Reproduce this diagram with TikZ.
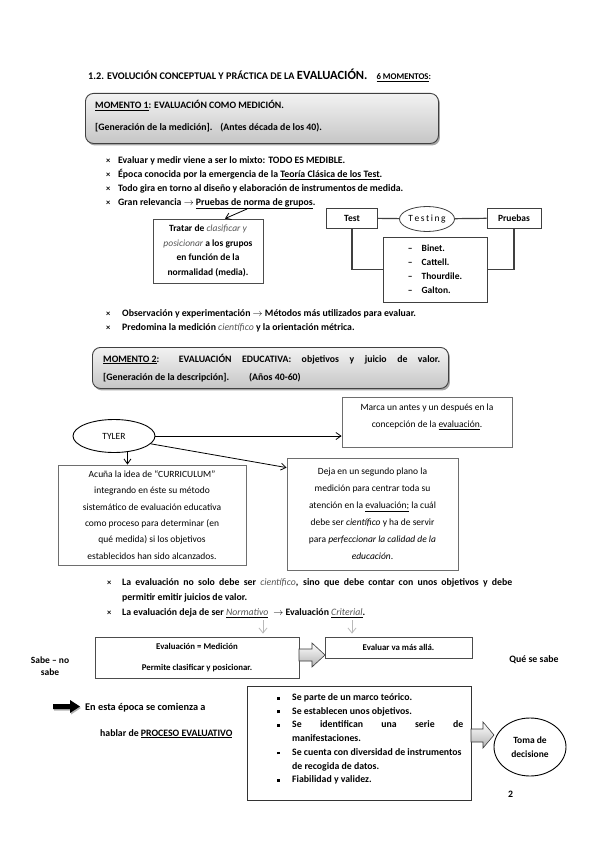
\documentclass[tikz,border=0pt]{standalone}
\usepackage{fontspec}
\setmainfont{Carlito}
\usetikzlibrary{arrows.meta,shapes.geometric,shadows,calc}
\definecolor{bordergray}{HTML}{6E6E6E}
\definecolor{linegray}{HTML}{404040}
\definecolor{itgray}{HTML}{555555}
\newcommand{\sqb}{\rule[1pt]{2.8pt}{2.8pt}}
\newcommand{\xmk}{{\fontsize{8.5}{8.5}\selectfont\bfseries ×}}
\newcommand{\itg}[1]{{\mdseries\itshape\color{itgray}#1}}
\begin{document}
\begin{tikzpicture}[x=1pt,y=-1pt,
  t/.style={inner sep=0pt, anchor=base west, font=\fontsize{9.8}{11}\selectfont\bfseries},
  box/.style={draw=bordergray, line width=0.8pt, inner sep=0pt, fill=white},
  momento/.style={draw=black!75, line width=0.9pt, rounded corners=8pt, top color=gray!10, bottom color=gray!45,
     drop shadow={shadow xshift=1.5pt, shadow yshift=-2pt, opacity=0.35, fill=black}},
  conn/.style={draw=linegray, line width=1.2pt},
  arr/.style={-{Straight Barb[length=5pt,width=7pt]}, line width=0.8pt, draw=black},
  garr/.style={-{Straight Barb[length=5pt,width=8pt]}, draw=gray!55, line width=0.8pt, shorten >=3pt},
  blockarrow/.style={draw=gray!45!black, line width=0.6pt, top color=white, bottom color=gray!60}
]
\fill[white] (0,0) rectangle (599,848);
\useasboundingbox (0,0) rectangle (599,848);

% title
\node[t, font=\fontsize{10.2}{11}\selectfont\bfseries] (title) at (88,80)
  {1.2. EVOLUCIÓN CONCEPTUAL Y PRÁCTICA DE LA {\fontsize{12.5}{12}\selectfont EVALUACIÓN.}\hspace{9pt}{\fontsize{8.8}{10}\selectfont\underline{6 MOMENTOS}:}};

% Momento 1
\node[momento, minimum width=353pt, minimum height=50pt, anchor=north west] (m1) at (85,93) {};
\node[t] (m1a) at (95,108.5) {\underline{MOMENTO 1}: EVALUACIÓN COMO MEDICIÓN.};
\node[t] (m1b) at (95,130.5) {[Generación de la medición].\hspace{5pt} (Antes década de los 40).};

% bullets 1
\node[t] (x1) at (106,163) {\xmk};
\node[t] (b1) at (118,163.5) {Evaluar y medir viene a ser lo mixto: TODO ES MEDIBLE.};
\node[t] (x2) at (106,177) {\xmk};
\node[t] (b2) at (118,177.5) {Época conocida por la emergencia de la \underline{Teoría Clásica de los Test}.};
\node[t] (x3) at (106,191) {\xmk};
\node[t] (b3) at (118,191.5) {\makebox[285pt][s]{Todo gira en torno al diseño y elaboración de instrumentos de medida.}};
\node[t] (x4) at (106,205) {\xmk};
\node[t] (b4) at (118,205.5) {Gran relevancia $\rightarrow$ \underline{Pruebas de norma de grupos}.};
\coordinate (pn) at (247,209);

% Tratar box
\node[box, draw=gray!60!black, minimum width=110pt, minimum height=64pt, align=center,
      font=\fontsize{9.5}{14.5}\selectfont\bfseries] (tratar) at (208,251)
  {Tratar de \itg{clasificar y}\\\itg{posicionar} a los grupos\\en función de la\\normalidad (media).};
\draw[arr] (pn) -- ($(tratar.north)+(17,0)$);

% Test group
\node[box, draw=linegray, minimum width=51pt, minimum height=20pt, font=\fontsize{9.5}{10}\selectfont\bfseries] (test) at (352,218) {Test};
\node[ellipse, draw=linegray, line width=0.8pt, minimum width=55pt, minimum height=25pt, inner sep=0pt,
      font=\fontsize{9.5}{10}\selectfont] (testing) at (427,219) {T\,e\,s\,t\,i\,n\,g};
\node[box, draw=linegray, minimum width=54pt, minimum height=20pt, font=\fontsize{9.5}{10}\selectfont\bfseries] (pruebas) at (514,218) {Pruebas};
\node[box, draw=linegray, minimum width=104pt, minimum height=65pt, align=left,
      font=\fontsize{9.5}{14}\selectfont\bfseries] (autores) at (435,269.5)
  {–\hspace{9pt}Binet.\\–\hspace{9pt}Cattell.\\–\hspace{9pt}Thourdile.\\–\hspace{9pt}Galton.};
\draw[conn] (test) -- (testing);
\draw[conn] (testing) -- (pruebas);
\draw[conn] (test.south) |- (autores.west);
\draw[conn] (pruebas.south) |- (autores.east);

% bullets 2
\node[t] (x5) at (106,316) {\xmk};
\node[t] (b5) at (122,316.5) {Observación y experimentación $\rightarrow$ Métodos más utilizados para evaluar.};
\node[t] (x6) at (106,330) {\xmk};
\node[t] (b6) at (122,330.5) {Predomina la medición \itg{científico} y la orientación métrica.};

% Momento 2
\node[momento, minimum width=356pt, minimum height=41pt, anchor=north west] (m2) at (92,347) {};
\node[t] (m2a) at (103,362) {\makebox[337pt][s]{\underline{MOMENTO\ 2}: EVALUACIÓN EDUCATIVA: objetivos y juicio de valor.}};
\node[t] (m2b) at (103,380.5) {[Generación de la descripción].\hspace{20pt}(Años 40-60)};

% Tyler
\node[ellipse, draw=black, line width=0.9pt, minimum width=82pt, minimum height=33pt, inner sep=0pt,
      font=\fontsize{9.5}{10}\selectfont] (tyler) at (114,436) {TYLER};
\node[box, minimum width=170pt, minimum height=50pt] (marca) at (427,422) {};
\node[align=center, inner sep=0pt, font=\fontsize{9.5}{17}\selectfont] (marcatxt) at (427,417)
  {Marca un antes y un después en la\\concepción de la \underline{evaluación}.};
\draw[arr] (tyler.east) -- (tyler.east -| marca.west);

\node[box, minimum width=188pt, minimum height=100pt, align=center, font=\fontsize{9.5}{16.3}\selectfont] (acuna) at (152,515)
  {Acuña la idea de “CURRICULUM”\\integrando en éste su método\\sistemático de evaluación educativa\\como proceso para determinar (en\\qué medida) si los objetivos\\establecidos han sido alcanzados.};
\draw[arr] (tyler.-50) -- (tyler.-50 |- acuna.north);

\node[box, minimum width=171pt, minimum height=112pt, align=center, font=\fontsize{9.5}{17}\selectfont] (deja) at (372.5,514)
  {Deja en un segundo plano la\\medición para centrar toda su\\atención en la \underline{evaluación;} la cuál\\debe ser \textit{científico} y ha de servir\\para \textit{perfeccionar la calidad de la}\\\textit{educación}.};
\draw[arr] (tyler.-12) -- ($(deja.north west)+(0,10)$);

% bullets 3
\node[t] (x7) at (107,585) {\xmk};
\node[t] (b7) at (122,585.5) {\makebox[390pt][s]{La evaluación no solo debe ser \itg{científico}, sino que debe contar con unos objetivos y debe}};
\node[t] (b7b) at (122,600.5) {permitir emitir juicios de valor.};
\node[t] (x8) at (107,615) {\xmk};
\node[t] (b8) at (122,615.5) {La evaluación deja de ser \underline{\itg{Normativo}}\hspace{5pt}$\rightarrow$ Evaluación \underline{\itg{Criterial}}.};
\coordinate (nrm) at (263,620);
\coordinate (crt) at (352,620);

% Medicion boxes
\node[box, draw=gray!60!black, minimum width=204pt, minimum height=41pt, align=center,
      font=\fontsize{8.8}{21}\selectfont\bfseries] (med) at (197,657.5)
  {Evaluación = Medición\\Permite clasificar y posicionar.};
\node[box, draw=gray!60!black, minimum width=147pt, minimum height=21pt,
      font=\fontsize{8.8}{10}\selectfont\bfseries] (mas) at (398.5,647.5) {Evaluar va más allá.};
\draw[garr] (nrm) -- (nrm |- med.north);
\draw[garr] (crt) -- (crt |- mas.north);
\path[blockarrow] (299,649) -- (312,649) -- (312,643) -- (325,655) -- (312,667) -- (312,661) -- (299,661) -- cycle;

\node[align=center, inner sep=0pt, font=\fontsize{9.5}{12}\selectfont\bfseries] (sabe) at (50,666) {Sabe – no\\sabe};
\node[inner sep=0pt, font=\fontsize{9.8}{10}\selectfont\bfseries] (que) at (534,660) {Qué se sabe};

% bottom
\path[fill=black, drop shadow={shadow xshift=1pt, shadow yshift=-1.5pt, opacity=0.3, fill=black}]
  (53,704) -- (70,704) -- (70,700) -- (80,706.5) -- (70,713) -- (70,709) -- (53,709) -- cycle;
\node[t, font=\fontsize{10.3}{11}\selectfont\bfseries] (epoca) at (85,710) {En esta época se comienza a};
\node[t] (hablar) at (100,736) {hablar de \underline{PROCESO EVALUATIVO}};

\node[box, draw=black!80, minimum width=224pt, minimum height=114pt, anchor=north west] (lista) at (247,686) {};
\node[anchor=north west, align=left, inner sep=0pt, font=\fontsize{9.8}{13.7}\selectfont\bfseries] (listatxt) at (292,693.5)
  {\llap{\sqb\hspace{12.5pt}}Se parte de un marco teórico.\\
   \llap{\sqb\hspace{12.5pt}}Se establecen unos objetivos.\\
   \llap{\sqb\hspace{12.5pt}}\makebox[171pt][s]{Se identifican una serie de}\\
   manifestaciones.\\
   \llap{\sqb\hspace{12.5pt}}Se cuenta con diversidad de instrumentos\\
   de recogida de datos.\\
   \llap{\sqb\hspace{12.5pt}}Fiabilidad y validez.};
\path[blockarrow] (471,729) -- (483,729) -- (483,722) -- (494,735) -- (483,748) -- (483,742) -- (471,742) -- cycle;
\node[ellipse, draw=black, line width=0.9pt, minimum width=72pt, minimum height=58pt, inner sep=0pt, align=center,
      font=\fontsize{9.5}{14}\selectfont\bfseries] (toma) at (530,747) {Toma de\\decisione};
\node[t] (pag) at (508,797) {2};
\end{tikzpicture}
\end{document}
